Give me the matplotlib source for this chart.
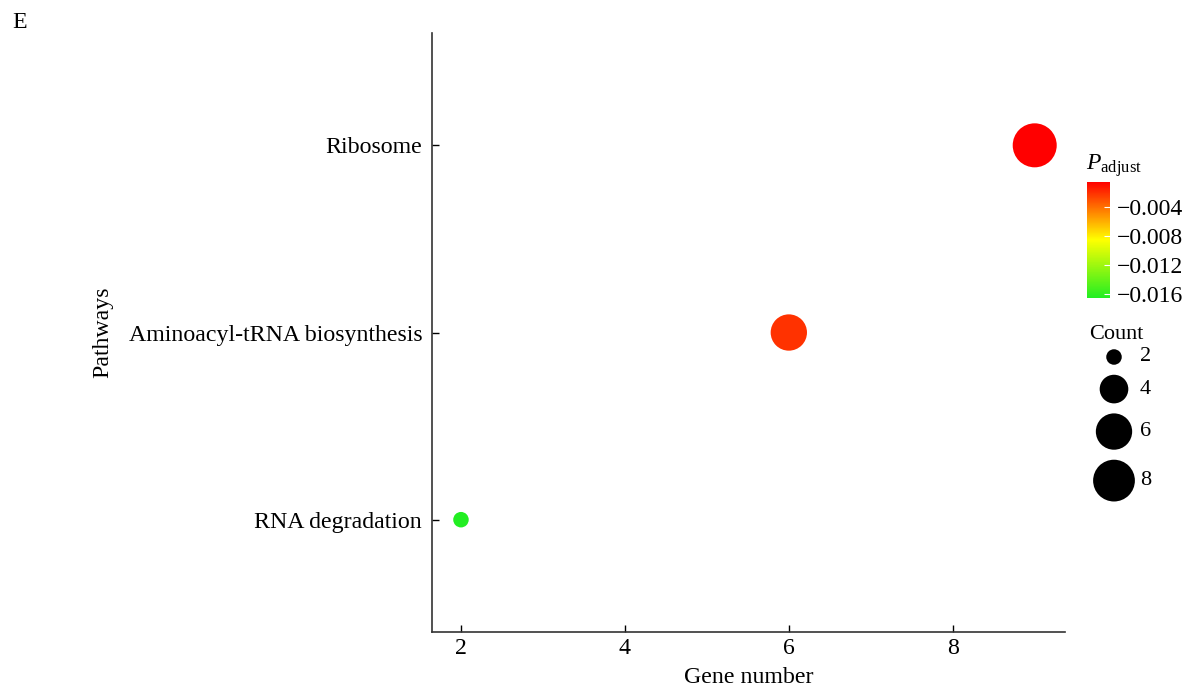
import numpy as np
import matplotlib
matplotlib.use("Agg")
import matplotlib.pyplot as plt
from matplotlib.colors import LinearSegmentedColormap, Normalize

plt.rcParams['font.family'] = ['Liberation Serif', 'DejaVu Serif']
plt.rcParams['mathtext.fontset'] = 'custom'
plt.rcParams['mathtext.rm'] = 'Liberation Serif'
plt.rcParams['mathtext.it'] = 'Liberation Serif:italic'

# Data
pathways = ['RNA degradation', 'Aminoacyl-tRNA biosynthesis', 'Ribosome']
gene_number = [2, 6, 9]
p_adjust = [-0.0166, -0.0020, -0.0004]
legend_counts = [2, 4, 6, 8]
cbar_ticks = [-0.004, -0.008, -0.012, -0.016]

DPI = 100
FS = 17.2


def count_to_diam_px(c):
    # marker diameter (pixels) grows with log of the count
    return 2.37 + 18.95 * np.log(np.asarray(c, dtype=float))


def count_to_size(c):
    return (count_to_diam_px(c) * 72.0 / DPI) ** 2


cmap = LinearSegmentedColormap.from_list(
    'gyr', [(0.0, '#22EE22'), (0.5, '#FFFF00'), (1.0, '#FF0000')])
norm = Normalize(vmin=-0.0166, vmax=-0.0004)

fig = plt.figure(figsize=(11.88, 6.88), dpi=DPI)
ax = fig.add_axes([0.3636, 0.0814, 0.5329, 0.8706])

ypos = np.arange(1, len(pathways) + 1)
ax.scatter(gene_number, ypos, s=count_to_size(gene_number),
           c=p_adjust, cmap=cmap, norm=norm, edgecolors='none', zorder=3)

ax.set_xlim(1.646, 9.37)
ax.set_ylim(0.4, 3.6)
ax.set_xticks([2, 4, 6, 8])
ax.set_yticks(ypos)
ax.set_yticklabels(pathways)
ax.tick_params(axis='both', direction='in', labelsize=FS, length=5, width=1)
ax.tick_params(axis='y', pad=7)
ax.tick_params(axis='x', pad=4)
ax.spines['top'].set_visible(False)
ax.spines['right'].set_visible(False)
for s in ['left', 'bottom']:
    ax.spines[s].set_color('#333333')
    ax.spines[s].set_linewidth(1.2)

ax.set_xlabel('Gene number', fontsize=FS, labelpad=6)
ax.set_ylabel('Pathways', fontsize=FS)
ax.yaxis.set_label_coords(-0.503, 0.5)

fig.text(0.010, 0.968, 'E', fontsize=FS, va='center', ha='left')

# Colorbar
cax = fig.add_axes([0.915, 0.567, 0.0194, 0.169])
sm = plt.cm.ScalarMappable(cmap=cmap, norm=norm)
cb = fig.colorbar(sm, cax=cax, ticks=cbar_ticks)
cb.outline.set_visible(False)
cax.tick_params(labelsize=17, length=4, color='white', direction='in', pad=5)
fig.text(0.914, 0.740, r'$P_{\mathrm{adjust}}$', fontsize=17, ha='left', va='bottom')

# Size legend, laid out in a pixel-unit axes
lax = fig.add_axes([1080 / 1188, (688 - 520) / 688, 108 / 1188, 200 / 688])
lax.set_xlim(1080, 1188)
lax.set_ylim(520, 320)
lax.axis('off')
diam = count_to_diam_px(legend_counts)
gap = 10
centers = [357.0]
for i in range(1, len(diam)):
    centers.append(centers[-1] + (diam[i - 1] + diam[i]) / 2 + gap)
lx = 1114
lax.scatter([lx] * len(legend_counts), centers, s=count_to_size(legend_counts),
            color='black', edgecolors='none', clip_on=False)
for c, yc in zip(legend_counts, centers):
    lax.text(1140, yc, str(c), fontsize=16, va='center', ha='left')
lax.text(lx + 2, 335, 'Count', fontsize=16, va='center', ha='center')

fig.savefig('out.png', dpi=DPI)
